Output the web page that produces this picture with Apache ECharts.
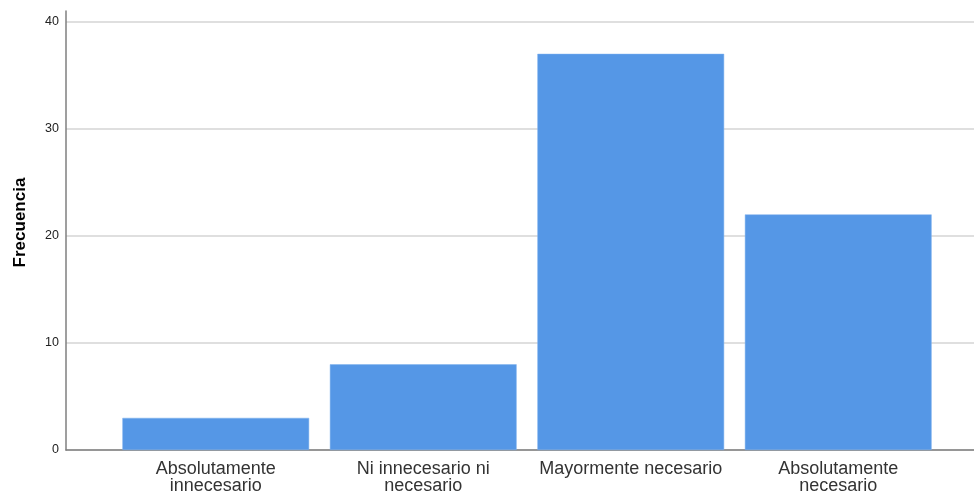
<!DOCTYPE html>
<html><head><meta charset="utf-8">
<script src="https://cdn.jsdelivr.net/npm/echarts@6/dist/echarts.min.js"></script>
<style>html,body{margin:0;padding:0;background:#fff}#c{width:974px;height:495px}</style>
</head><body><div id="c"></div>
<script>
var categories = ['Absolutamente\ninnecesario', 'Ni innecesario ni\nnecesario', 'Mayormente necesario', 'Absolutamente\nnecesario'];
var frecuencia = [3, 8, 37, 22];
var yTicks = [0, 10, 20, 30, 40];
var yAxisTitle = 'Frecuencia';

var chart = echarts.init(document.getElementById('c'));
var font = 'Arial, "Liberation Sans", sans-serif';
chart.setOption({
  animation: false,
  grid: [
    {left: 66, right: 0, top: 11, bottom: 45, outerBoundsMode: 'none', containLabel: false},
    {left: 112, width: 830, top: 11, bottom: 45, outerBoundsMode: 'none', containLabel: false}
  ],
  xAxis: [
    {gridIndex: 0, type: 'category', data: [''], axisLine: {lineStyle: {color: '#7f7f7f', width: 1.5}}, axisTick: {show: false}, axisLabel: {show: false}},
    {gridIndex: 1, type: 'category', data: categories, axisLine: {show: false}, axisTick: {show: false},
     axisLabel: {fontFamily: font, fontSize: 18, color: '#333', lineHeight: 17, margin: 11, interval: 0}}
  ],
  yAxis: [
    {gridIndex: 0, type: 'value', min: 0, max: 41, interval: 10,
     name: yAxisTitle, nameLocation: 'middle', nameGap: 37, nameRotate: 90,
     nameTextStyle: {fontFamily: font, fontSize: 17, fontWeight: 'bold', color: '#000', padding: [0, 0, 0, 16]},
     axisLine: {show: true, lineStyle: {color: '#7f7f7f', width: 1.5}}, axisTick: {show: false},
     axisLabel: {fontFamily: font, fontSize: 12.5, color: '#222', margin: 7, showMaxLabel: false,
       formatter: function (v) { return yTicks.indexOf(v) >= 0 ? String(v) : ''; }},
     splitLine: {showMaxLine: false, lineStyle: {color: '#d4d4d4', width: 1.5}}},
    {gridIndex: 1, type: 'value', min: 0, max: 41, interval: 10, show: false, splitLine: {show: false}}
  ],
  series: [{
    type: 'bar', xAxisIndex: 1, yAxisIndex: 1, data: frecuencia, barCategoryGap: '10%',
    itemStyle: {color: '#5597e6', borderColor: '#7fb0ee', borderWidth: 0.5}
  }]
});
</script></body></html>
